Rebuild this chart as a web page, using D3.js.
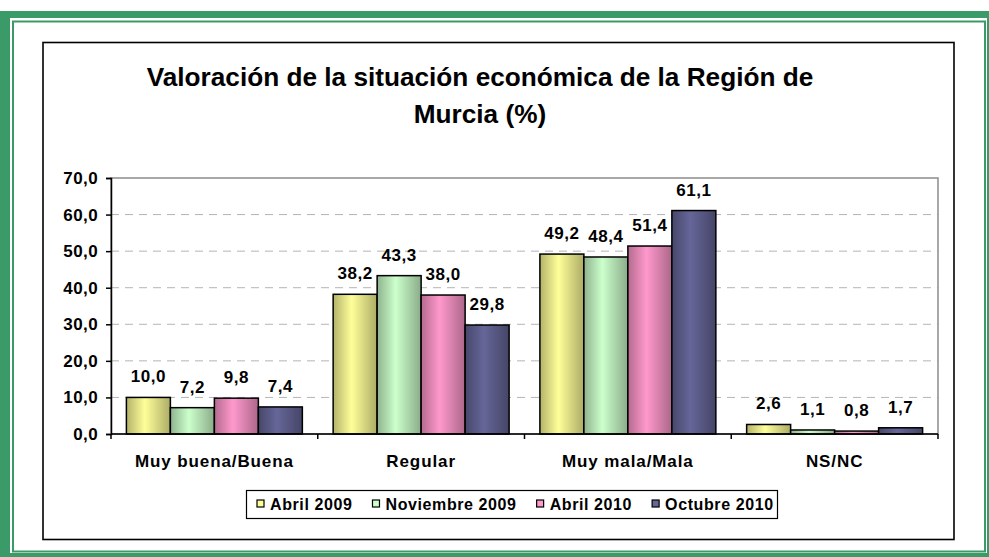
<!DOCTYPE html>
<html>
<head>
<meta charset="utf-8">
<script src="https://cdn.jsdelivr.net/npm/d3@7"></script>
<style>
  body { margin: 0; background: #fff; }
  text { font-family: "Liberation Sans", Arial, sans-serif; font-weight: bold; fill: #000; }
</style>
</head>
<body>
<svg id="chart" width="989" height="557"></svg>
<script>
// data
var categories = ['Muy buena/Buena', 'Regular', 'Muy mala/Mala', 'NS/NC'];
var seriesNames = ['Abril 2009', 'Noviembre 2009', 'Abril 2010', 'Octubre 2010'];
var abril2009 = [10.0, 38.2, 49.2, 2.6];
var noviembre2009 = [7.2, 43.3, 48.4, 1.1];
var abril2010 = [9.8, 38.0, 51.4, 0.8];
var octubre2010 = [7.4, 29.8, 61.1, 1.7];
var yTicks = [0, 10, 20, 30, 40, 50, 60, 70];
var colors = ['#ffff99', '#ccffcc', '#ff99cc', '#666699'];
var titleLines = ['Valoración de la situación económica de la Región de', 'Murcia (%)'];

var seriesValues = [abril2009, noviembre2009, abril2010, octubre2010];

var svg = d3.select('#chart');
var fmt = function (v) { return d3.format('.1f')(v).replace('.', ','); };

// green page frame
svg.append('rect').attr('x', 0).attr('y', 11).attr('width', 989).attr('height', 546).attr('fill', '#3a9b69');
svg.append('rect').attr('x', 10).attr('y', 18).attr('width', 977).attr('height', 535).attr('fill', '#fff');
svg.append('rect').attr('x', 13).attr('y', 21.5).attr('width', 972).attr('height', 530)
  .attr('fill', 'none').attr('stroke', '#3a9b69').attr('stroke-width', 2);

// chart box
svg.append('rect').attr('x', 43).attr('y', 42.5).attr('width', 911).attr('height', 497)
  .attr('fill', '#fff').attr('stroke', '#000').attr('stroke-width', 1.6);

// title
svg.selectAll('.title').data(titleLines).enter().append('text')
  .attr('class', 'title')
  .attr('x', 480)
  .attr('y', function (d, i) { return 86 + i * 37; })
  .attr('text-anchor', 'middle')
  .style('font-size', '26.2px')
  .text(function (d) { return d; });

// scales
var plot = { left: 111, right: 938, top: 178, bottom: 434 };
var y = d3.scaleLinear().domain([0, 70]).range([plot.bottom, plot.top]);
var x0 = d3.scaleBand().domain(categories).range([plot.left, plot.right]).padding(0);
var x1 = d3.scaleBand().domain(seriesNames).range([0, x0.bandwidth()])
  .paddingInner(0).paddingOuter(0.35);

// gridlines
svg.append('g').selectAll('line').data(yTicks.slice(1, -1)).enter().append('line')
  .attr('x1', plot.left).attr('x2', plot.right)
  .attr('y1', function (d) { return y(d); }).attr('y2', function (d) { return y(d); })
  .attr('stroke', '#b4b4b4').attr('stroke-dasharray', '8,6');

// plot border (grey top/right)
svg.append('rect').attr('x', plot.left).attr('y', plot.top)
  .attr('width', plot.right - plot.left).attr('height', plot.bottom - plot.top)
  .attr('fill', 'none').attr('stroke', '#8c8c8c').attr('stroke-width', 1.5);

// gradients per series
var defs = svg.append('defs');
colors.forEach(function (c, i) {
  var g = defs.append('linearGradient').attr('id', 'grad' + i)
    .attr('x1', '0%').attr('x2', '100%').attr('y1', '0%').attr('y2', '0%');
  g.append('stop').attr('offset', '0%').attr('stop-color', d3.color(c).darker(1.0));
  g.append('stop').attr('offset', '42%').attr('stop-color', c);
  g.append('stop').attr('offset', '100%').attr('stop-color', d3.color(c).darker(1.1));
});

// bars
var groups = svg.append('g').selectAll('g').data(categories).enter().append('g')
  .attr('transform', function (d) { return 'translate(' + x0(d) + ',0)'; });

groups.selectAll('rect')
  .data(function (d, ci) { return seriesNames.map(function (s, si) { return { s: s, si: si, v: seriesValues[si][ci] }; }); })
  .enter().append('rect')
  .attr('x', function (d) { return x1(d.s); })
  .attr('y', function (d) { return y(d.v); })
  .attr('width', x1.bandwidth())
  .attr('height', function (d) { return y(0) - y(d.v); })
  .attr('fill', function (d) { return 'url(#grad' + d.si + ')'; })
  .attr('stroke', '#000').attr('stroke-width', 1.5);

groups.selectAll('text')
  .data(function (d, ci) { return seriesNames.map(function (s, si) { return { s: s, si: si, v: seriesValues[si][ci] }; }); })
  .enter().append('text')
  .attr('x', function (d) { return x1(d.s) + x1.bandwidth() / 2; })
  .attr('y', function (d) { return y(d.v) - 15; })
  .attr('text-anchor', 'middle')
  .style('font-size', '17px')
  .style('letter-spacing', '0.5px')
  .text(function (d) { return fmt(d.v); });

// y axis
var yAxis = svg.append('g').attr('transform', 'translate(' + plot.left + ',0)')
  .call(d3.axisLeft(y).tickValues(yTicks).tickSize(5).tickPadding(8).tickFormat(fmt));
yAxis.select('.domain').attr('stroke', '#000').attr('stroke-width', 1.5);
yAxis.selectAll('.tick line').attr('stroke', '#000').attr('stroke-width', 1.5);
yAxis.selectAll('.tick text').attr('font-family', null).attr('font-size', null)
  .style('font-size', '17px').style('letter-spacing', '0.4px');

// x axis with ticks between categories
var xAxis = svg.append('g');
xAxis.append('line').attr('x1', plot.left).attr('x2', plot.right)
  .attr('y1', plot.bottom).attr('y2', plot.bottom)
  .attr('stroke', '#000').attr('stroke-width', 1.5);
xAxis.selectAll('.xt').data(categories.map(function (c) { return x0(c); }).concat([plot.right]))
  .enter().append('line')
  .attr('x1', function (d) { return d; }).attr('x2', function (d) { return d; })
  .attr('y1', plot.bottom).attr('y2', plot.bottom + 5)
  .attr('stroke', '#000').attr('stroke-width', 1.5);
xAxis.selectAll('text').data(categories).enter().append('text')
  .attr('x', function (d) { return x0(d) + x0.bandwidth() / 2; })
  .attr('y', 467)
  .attr('text-anchor', 'middle')
  .style('font-size', '17px')
  .style('letter-spacing', '0.9px')
  .text(function (d) { return d; });

// legend
var legend = svg.append('g');
legend.append('rect').attr('x', 246.5).attr('y', 490.5).attr('width', 531).attr('height', 28)
  .attr('fill', '#fff').attr('stroke', '#000').attr('stroke-width', 1.2);
var lx = 257;
seriesNames.forEach(function (s, i) {
  legend.append('rect').attr('x', lx).attr('y', 500).attr('width', 7).attr('height', 7)
    .attr('fill', colors[i]).attr('stroke', '#000').attr('stroke-width', 1.2);
  var t = legend.append('text').attr('x', lx + 13).attr('y', 509.5)
    .style('font-size', '16px').style('letter-spacing', '0.6px').text(s);
  lx += 13 + t.node().getComputedTextLength() + 20;
});
</script>
</body>
</html>
